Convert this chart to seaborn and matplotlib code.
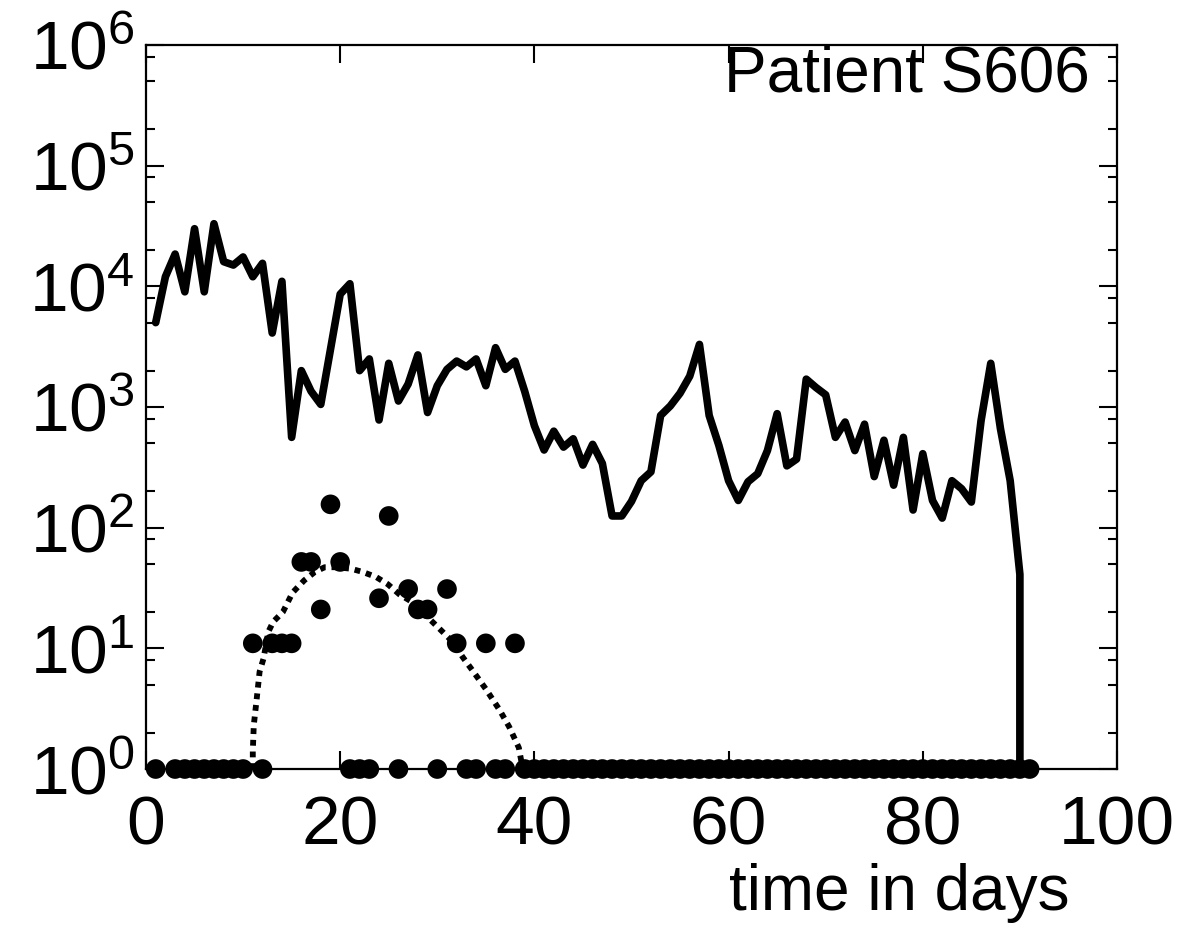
import matplotlib
matplotlib.use("Agg")
import matplotlib.pyplot as plt
import matplotlib.ticker as mticker
import pandas as pd
import seaborn as sns

sns.set_theme(style="ticks")
plt.rcParams['font.family'] = ['Liberation Sans', 'DejaVu Sans']
plt.rcParams['mathtext.fontset'] = 'custom'
plt.rcParams['mathtext.rm'] = 'Liberation Sans'
plt.rcParams['mathtext.it'] = 'Liberation Sans:italic'
plt.rcParams['mathtext.bf'] = 'Liberation Sans:bold'
plt.rcParams['text.color'] = 'black'

# solid curve: daily values, day 1..90, then drop to the axis at day 90
load_days = list(range(1, 91)) + [90]
load_vals = [5000, 12000, 18500, 9000, 30000, 9000, 33000, 16000, 15000, 17500,
             12000, 15500, 4100, 11000, 560, 2000, 1350, 1050, 3000, 8600,
             10500, 2000, 2500, 780, 2300, 1120, 1550, 2700, 900, 1500,
             2050, 2400, 2150, 2500, 1500, 3100, 2050, 2400, 1350, 700,
             440, 630, 465, 545, 330, 490, 340, 125, 125, 165,
             245, 290, 850, 1020, 1300, 1800, 3300, 850, 480, 245,
             168, 240, 280, 435, 880, 325, 370, 1700, 1450, 1260,
             560, 750, 435, 720, 265, 530, 225, 560, 140, 410,
             168, 120, 245, 210, 163, 770, 2300, 660, 245, 41, 1]

# dots
dot_days = [1, 3, 4, 5, 6, 7, 8, 9, 10, 11, 12, 13, 14, 15, 16, 17, 18, 19, 20,
            21, 22, 23, 24, 25, 26, 27, 28, 29, 30, 31, 32, 33, 34, 35, 36, 37, 38] + list(range(39, 92))
dot_vals = [1, 1, 1, 1, 1, 1, 1, 1, 1, 11, 1, 11, 11, 11, 52, 52, 21, 156, 52,
            1, 1, 1, 26, 125, 1, 31, 21, 21, 1, 31, 11, 1, 1, 11, 1, 1, 11] + [1] * 53

# dotted fit curve
fit_days = [11.0, 11.0, 11.1, 11.4, 11.7, 12.1, 12.6, 13.1, 14.1, 15.1, 16.3, 17.4, 18.4,
            19.6, 21.1, 22.3, 23.7, 24.9, 26.1, 27.5, 28.8, 30.2, 31.6, 32.6, 33.6,
            35.0, 36.4, 37.4, 38.4, 38.8]
fit_vals = [1.0, 1.4, 2.3, 3.8, 6.4, 8.2, 13.7, 16.6, 20, 29, 36.6, 43, 47,
            47, 45.7, 43, 39, 34, 28, 24, 18.8, 14.6, 11.3, 8.5, 6.6,
            4.6, 3.1, 2.24, 1.5, 1.0]

load = pd.DataFrame({"day": load_days, "value": load_vals})
dots = pd.DataFrame({"day": dot_days, "value": dot_vals})
fit = pd.DataFrame({"day": fit_days, "value": fit_vals})

fig = plt.figure(figsize=(11.84, 9.36), dpi=100)
ax = fig.add_axes([0.1233, 0.1784, 0.9434 - 0.1233, 0.952 - 0.1784])

sns.lineplot(data=load, x="day", y="value", estimator=None, sort=False,
             color="black", linewidth=5.5, ax=ax)
sns.lineplot(data=fit, x="day", y="value", estimator=None, sort=False,
             color="black", linewidth=4.2, linestyle=(0, (1, 1)), ax=ax)
sns.scatterplot(data=dots, x="day", y="value", color="black", s=200,
                edgecolor="none", clip_on=False, zorder=5, ax=ax)

ax.set_yscale("log")
ax.set_xlim(0, 100)
ax.set_ylim(1, 1e6)
ax.xaxis.set_major_locator(mticker.MultipleLocator(20))
ax.yaxis.set_major_locator(mticker.LogLocator(base=10, numticks=10))
ax.yaxis.set_minor_locator(mticker.LogLocator(base=10, subs=(2, 5, 8), numticks=10))
ax.yaxis.set_minor_formatter(mticker.NullFormatter())

ax.tick_params(which="both", direction="in", top=True, right=True, width=1.5,
               labelsize=50, color="black", labelcolor="black")
ax.tick_params(which="major", length=13)
ax.tick_params(which="minor", length=6.5)
ax.tick_params(axis="x", pad=18)
ax.tick_params(axis="y", pad=8)
for sp in ax.spines.values():
    sp.set_linewidth(1.6)
    sp.set_color("black")

ax.set_xlabel("")
ax.set_ylabel("")
ax.text(0.9516, -0.171, "time in days", transform=ax.transAxes, ha="right",
        va="center", fontsize=46, color="black")
ax.text(0.972, 0.9586, "Patient S606", transform=ax.transAxes, ha="right",
        va="center", fontsize=46, color="black")

fig.savefig("out.png", dpi=100)
